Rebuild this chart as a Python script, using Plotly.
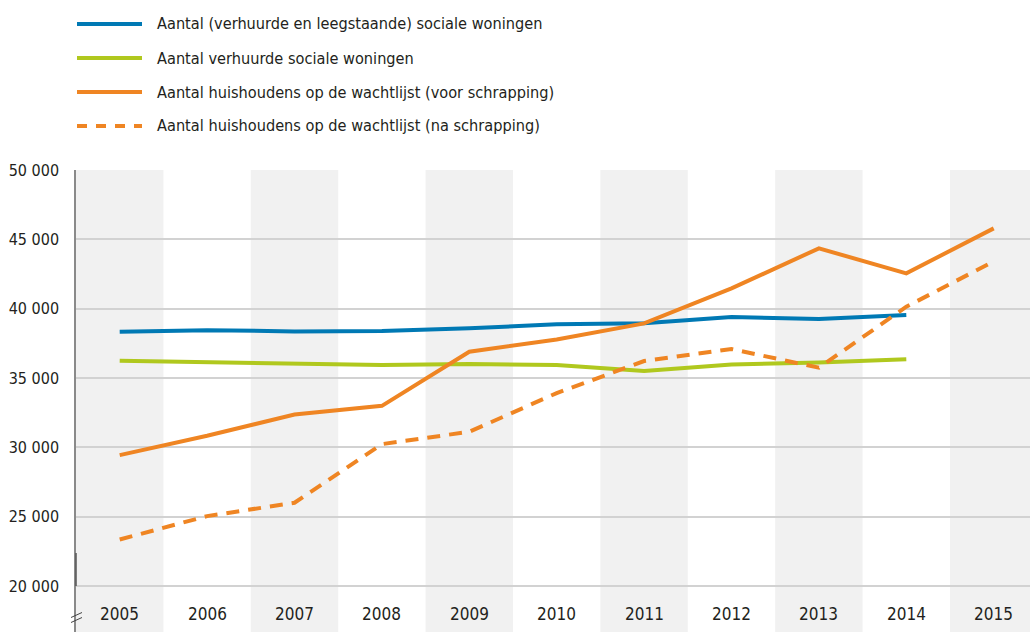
import plotly.graph_objects as go

# Data
years = ["2005", "2006", "2007", "2008", "2009", "2010", "2011", "2012", "2013", "2014", "2015"]
woningen_totaal = [38330, 38450, 38360, 38390, 38580, 38870, 38940, 39390, 39260, 39540, None]
woningen_verhuurd = [36240, 36120, 36050, 35930, 36000, 35930, 35500, 35980, 36120, 36360, None]
wachtlijst_voor = [29440, 30830, 32370, 32990, 36890, 37780, 38940, 41460, 44350, 42550, 45790]
wachtlijst_na = [23350, 25040, 26000, 30230, 31120, 33910, 36220, 37090, 35740, 40140, 43410]

series_names = [
    "Aantal (verhuurde en leegstaande) sociale woningen",
    "Aantal verhuurde sociale woningen",
    "Aantal huishoudens op de wachtlijst (voor schrapping)",
    "Aantal huishoudens op de wachtlijst (na schrapping)",
]
y_ticks = [20000, 25000, 30000, 35000, 40000, 45000, 50000]
y_tick_labels = ["20 000", "25 000", "30 000", "35 000", "40 000", "45 000", "50 000"]

BLUE = "#0079b4"
GREEN = "#b0c81e"
ORANGE = "#ef8523"
FONT = "DejaVu Sans Condensed, sans-serif"
TEXT = "#231f20"

W, H = 1030, 632
L, T = 76, 170          # plot area left / top in pixels
PW, PH = W - L, H - T   # plot area size


def px_x(x):
    return (x - L) / PW


def px_y(y):
    return (H - y) / PH


styles = [
    dict(color=BLUE, width=4, dash="solid"),
    dict(color=GREEN, width=4, dash="solid"),
    dict(color=ORANGE, width=4, dash="solid"),
    dict(color=ORANGE, width=4, dash="13px,9px"),
]
values = [woningen_totaal, woningen_verhuurd, wachtlijst_voor, wachtlijst_na]
xs = list(range(len(years)))

fig = go.Figure()
for name, vals, st in zip(series_names, values, styles):
    fig.add_trace(go.Scatter(
        x=xs, y=vals, name=name, mode="lines",
        line=st, showlegend=False, connectgaps=False,
    ))

shapes = []
# alternating column bands
for i in xs:
    if i % 2 == 0:
        shapes.append(dict(type="rect", xref="x", yref="paper",
                           x0=i - 0.5, x1=i + 0.5, y0=0, y1=1,
                           fillcolor="#f1f1f1", line_width=0, layer="below"))

# darker segment of the y axis above the axis break
shapes.append(dict(type="line", xref="paper", yref="paper",
                   x0=0, x1=0, y0=px_y(586), y1=px_y(553),
                   line=dict(color="#555555", width=1.5)))
# axis break marks
for dy in (-2.5, 2.5):
    shapes.append(dict(type="line", xref="paper", yref="paper",
                       x0=px_x(71), x1=px_x(82),
                       y0=px_y(620 + dy), y1=px_y(615 + dy),
                       line=dict(color="#444444", width=1)))

annotations = []
# category labels inside the plot area
for i, yr in enumerate(years):
    annotations.append(dict(x=i, y=px_y(614), xref="x", yref="paper",
                            text=yr, showarrow=False, xanchor="center",
                            yanchor="middle",
                            font=dict(family=FONT, size=17, color=TEXT)))

# legend drawn above the plot area
legend_y = [24, 58, 92, 126]
for name, st, ly in zip(series_names, styles, legend_y):
    shapes.append(dict(type="line", xref="paper", yref="paper",
                       x0=px_x(77), x1=px_x(142), y0=px_y(ly), y1=px_y(ly),
                       line=dict(color=st["color"], width=4,
                                 dash="10px,9px" if st["dash"] != "solid" else "solid")))
    annotations.append(dict(x=px_x(155), y=px_y(ly), xref="paper", yref="paper",
                            text=name, showarrow=False, xanchor="left",
                            yanchor="middle",
                            font=dict(family=FONT, size=16.2, color=TEXT)))

span = 5000 / 69.3
fig.update_layout(
    width=W, height=H,
    margin=dict(l=L, r=0, t=T, b=0, pad=0),
    paper_bgcolor="white", plot_bgcolor="white",
    shapes=shapes, annotations=annotations,
    xaxis=dict(range=[-0.5, PW / 87.4 - 0.5], showgrid=False, zeroline=False,
               showticklabels=False, ticks="", fixedrange=True),
    yaxis=dict(range=[20000 - (H - 586) * span, 50000],
               tickvals=y_ticks, ticktext=y_tick_labels,
               showgrid=True, gridcolor="#d2d2d2", gridwidth=1.5,
               zeroline=False, showline=True, linecolor="#8a8a8a", linewidth=1.5,
               ticks="", ticklabelstandoff=12,
               tickfont=dict(family=FONT, size=16, color=TEXT)),
    font=dict(family=FONT, color=TEXT),
)

fig.write_html("out.html")
